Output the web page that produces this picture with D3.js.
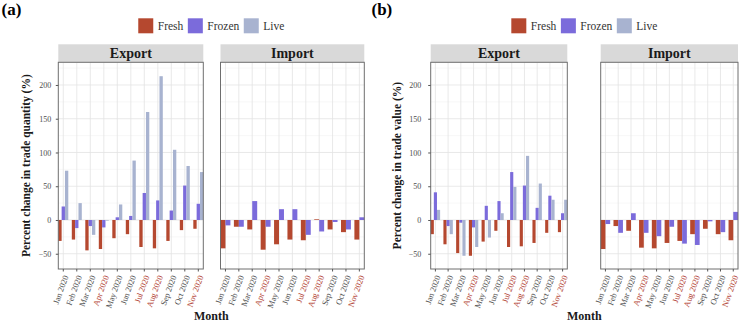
<!DOCTYPE html>
<html>
<head>
<meta charset="utf-8">
<script src="https://cdn.jsdelivr.net/npm/d3@7"></script>
<style>
  body { margin: 0; background: #fff; }
  svg { display: block; font-family: "Liberation Serif", "Times New Roman", serif; }
</style>
</head>
<body>
<svg id="chart" width="739" height="322"></svg>
<script>
const months = ["Jan 2020", "Feb 2020", "Mar 2020", "Apr 2020", "May 2020", "Jun 2020",
  "Jul 2020", "Aug 2020", "Sep 2020", "Oct 2020", "Nov 2020"];
const redMonths = ["Apr 2020", "Jul 2020", "Aug 2020", "Nov 2020"];
const seriesNames = ["Fresh", "Frozen", "Live"];
const facets = ["Export", "Import"];
const yTicks = [-50, 0, 50, 100, 150, 200];

// (a) percent change in trade quantity
const qtyExportFresh = [-31, -29, -45, -43, -27, -21, -40, -42, -31, -15, -13];
const qtyExportFrozen = [20, -12, -9, -11, 4, 6, 40, 29, 14, 51, 24];
const qtyExportLive = [73, 25, -22, -1, 23, 88, 160, 213, 104, 80, 71];
const qtyImportFresh = [-42, -10, -14, -44, -36, -29, -30, 1, -14, -18, -29];
const qtyImportFrozen = [-8, -10, 28, -10, 16, 16, -22, -17, -3, -14, 4];

// (b) percent change in trade value
const valExportFresh = [-21, -36, -49, -53, -32, -16, -40, -39, -34, -19, -18];
const valExportFrozen = [41, -9, -4, -11, 21, 28, 71, 51, 18, 36, 10];
const valExportLive = [15, -21, -53, -40, -26, 10, 49, 95, 54, 30, 30];
const valImportFresh = [-43, -9, -16, -41, -42, -34, -31, -21, -13, -21, -30];
const valImportFrozen = [-6, -19, 10, -19, -24, -10, -35, -37, -2, -18, 12];

const colors = { Fresh: "#b5482f", Frozen: "#7b6bdb", Live: "#a8b3d0" };

function rows(facet, bySeries) {
  const out = [];
  Object.entries(bySeries).forEach(([s, vals]) => {
    vals.forEach((v, i) => out.push({ facet, series: s, month: months[i], value: v }));
  });
  return out;
}

const svg = d3.select("#chart");

function drawPlot(cfg) {
  const g = svg.append("g");
  const top = 62.3, bottom = 269;

  const y = d3.scaleLinear().domain([-72.6, 233.6]).range([bottom, top]);

  // tag
  g.append("text").attr("x", cfg.tagX).attr("y", 14.5)
    .attr("font-size", 17).attr("font-weight", "bold").text(cfg.tag);

  cfg.panels.forEach((p, k) => {
    const facet = facets[k];
    const data = cfg.data.filter((d) => d.facet === facet);
    const present = seriesNames.filter((s) => data.some((d) => d.series === s));

    const x = d3.scaleBand().domain(months).range([p[0], p[1]])
      .paddingInner(0.26).paddingOuter(0);
    const inner = d3.scaleBand().domain(present).range([0, x.bandwidth()]);

    const pg = g.append("g");

    // strip
    pg.append("rect").attr("x", p[0]).attr("y", 44.3)
      .attr("width", p[1] - p[0]).attr("height", top - 44.3)
      .attr("fill", "#d9d9d9");
    pg.append("text").attr("x", (p[0] + p[1]) / 2).attr("y", 58)
      .attr("text-anchor", "middle").attr("font-size", 14)
      .attr("font-weight", "bold").attr("fill", "#1a1a1a").text(facet);

    // grid
    const minor = d3.range(-75, 250, 25).filter((v) => v % 50 !== 0);
    pg.append("g").selectAll("line").data(minor.filter((v) => y(v) > top && y(v) < bottom))
      .join("line")
      .attr("x1", p[0]).attr("x2", p[1])
      .attr("y1", (d) => y(d)).attr("y2", (d) => y(d))
      .attr("stroke", "#f0f0f0").attr("stroke-width", 0.5);
    pg.append("g").selectAll("line").data(yTicks).join("line")
      .attr("x1", p[0]).attr("x2", p[1])
      .attr("y1", (d) => y(d)).attr("y2", (d) => y(d))
      .attr("stroke", "#e3e3e3").attr("stroke-width", 0.8);
    pg.append("g").selectAll("line").data(months).join("line")
      .attr("x1", (d) => x(d) + x.bandwidth() / 2).attr("x2", (d) => x(d) + x.bandwidth() / 2)
      .attr("y1", top).attr("y2", bottom)
      .attr("stroke", "#e3e3e3").attr("stroke-width", 0.8);

    // bars
    pg.append("g").selectAll("rect").data(data).join("rect")
      .attr("x", (d) => x(d.month) + inner(d.series))
      .attr("width", inner.bandwidth())
      .attr("y", (d) => y(Math.max(0, d.value)))
      .attr("height", (d) => Math.abs(y(d.value) - y(0)))
      .attr("fill", (d) => colors[d.series]);

    // border
    pg.append("rect").attr("x", p[0]).attr("y", top)
      .attr("width", p[1] - p[0]).attr("height", bottom - top)
      .attr("fill", "none").attr("stroke", "#6e6e6e").attr("stroke-width", 1);

    // x axis
    const xa = pg.append("g").attr("transform", `translate(0,${bottom})`)
      .call(d3.axisBottom(x).tickSize(2.5).tickSizeOuter(0))
      .attr("font-family", null);
    xa.select(".domain").remove();
    xa.selectAll(".tick line").attr("stroke", "#555");
    xa.selectAll(".tick text")
      .attr("font-size", 8.4)
      .attr("fill", (d) => (redMonths.includes(d) ? "#b03a2e" : "#4d4d4d"))
      .attr("text-anchor", "end")
      .attr("y", 0).attr("dy", "0.35em")
      .attr("transform", "translate(2.5,6.5) rotate(-70)");

    // y axis on first panel only
    if (k === 0) {
      const ya = pg.append("g").attr("transform", `translate(${p[0]},0)`)
        .call(d3.axisLeft(y).tickValues(yTicks).tickSize(2.5).tickPadding(cfg.tickPad))
        .attr("font-family", null);
      ya.select(".domain").remove();
      ya.selectAll(".tick line").attr("stroke", "#555");
      ya.selectAll(".tick text").attr("font-size", 8).attr("fill", "#4d4d4d");
    }
  });

  const cx = (cfg.panels[0][0] + cfg.panels[1][1]) / 2;

  // axis titles
  g.append("text")
    .attr("transform", `translate(${cfg.yTitleX},${(top + bottom) / 2}) rotate(-90)`)
    .attr("text-anchor", "middle").attr("font-size", 11.5).attr("font-weight", "bold")
    .attr("fill", "#1a1a1a").text(cfg.yTitle);
  g.append("text").attr("x", cx).attr("y", 319.5)
    .attr("text-anchor", "middle").attr("font-size", 12).attr("font-weight", "bold")
    .attr("fill", "#1a1a1a").text("Month");

  // legend
  const lg = g.append("g");
  let lx = 0;
  seriesNames.forEach((s) => {
    const item = lg.append("g").attr("transform", `translate(${lx},0)`);
    item.append("rect").attr("x", 0).attr("y", 18.3).attr("width", 15).attr("height", 15)
      .attr("fill", colors[s]);
    const t = item.append("text").attr("x", 19.5).attr("y", 30)
      .attr("font-size", 11.5).attr("fill", "#333").text(s);
    lx += 19.5 + t.node().getComputedTextLength() + 4.5;
  });
  lx -= 4.5;
  lg.attr("transform", `translate(${cx - lx / 2},0)`);
}

drawPlot({
  tag: "(a)", tagX: 1.5,
  panels: [[58.3, 203.3], [220.5, 364.3]],
  tickPad: 4.5, yTitleX: 29.5,
  yTitle: "Percent change in trade quantity (%)",
  data: rows("Export", { Fresh: qtyExportFresh, Frozen: qtyExportFrozen, Live: qtyExportLive })
    .concat(rows("Import", { Fresh: qtyImportFresh, Frozen: qtyImportFrozen }))
});

drawPlot({
  tag: "(b)", tagX: 371.5,
  panels: [[430.7, 567.3], [600.7, 738]],
  tickPad: 7, yTitleX: 401,
  yTitle: "Percent change in trade value (%)",
  data: rows("Export", { Fresh: valExportFresh, Frozen: valExportFrozen, Live: valExportLive })
    .concat(rows("Import", { Fresh: valImportFresh, Frozen: valImportFrozen }))
});
</script>
</body>
</html>
